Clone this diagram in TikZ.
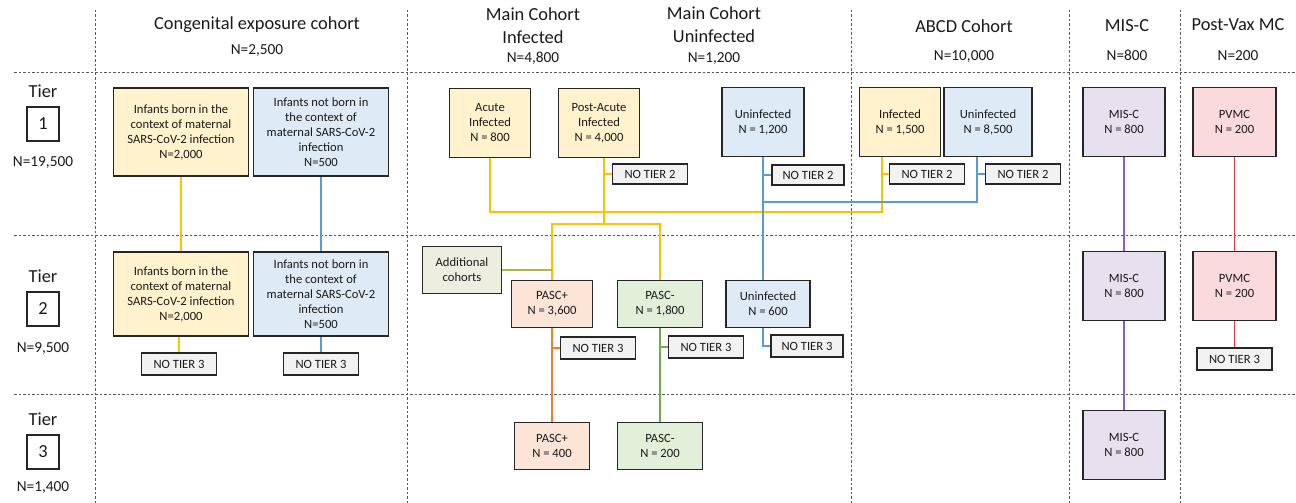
\documentclass[tikz,border=0pt]{standalone}
\usepackage{fontspec}
\setmainfont{Carlito}
\usetikzlibrary{positioning}

\definecolor{ylwfill}{HTML}{FFF2CC}
\definecolor{blufill}{HTML}{DEEBF7}
\definecolor{purfill}{HTML}{E7E0EF}
\definecolor{pnkfill}{HTML}{FADADC}
\definecolor{pchfill}{HTML}{FCE4D6}
\definecolor{grnfill}{HTML}{E2EFD9}
\definecolor{olvfill}{HTML}{EDEEDF}
\definecolor{gryfill}{HTML}{F2F2F2}
\definecolor{ylwline}{HTML}{FFC000}
\definecolor{bluline}{HTML}{5B9BD5}
\definecolor{ornline}{HTML}{ED7D31}
\definecolor{grnline}{HTML}{70AD47}
\definecolor{purline}{HTML}{8E5CC6}
\definecolor{redline}{HTML}{E0383C}
\definecolor{olvline}{HTML}{B4B446}
\definecolor{boxline}{HTML}{262626}
\definecolor{txt}{HTML}{1A1A1A}

\tikzset{
    divider/.style={gray!70!black, line width=0.9pt, dash pattern=on 2.5pt off 2pt},
    head/.style={text=txt, align=center, font=\fontsize{18.4}{23}\selectfont, inner sep=0pt},
    headn/.style={text=txt, font=\fontsize{15.3}{18}\selectfont, inner sep=0pt},
    tiernum/.style={draw=boxline, line width=1.4pt, text=txt, minimum width=32pt, minimum height=34pt, font=\fontsize{18.4}{22}\selectfont},
    cbox/.style={draw=boxline, line width=1.3pt, align=center, text=txt, inner sep=1pt,
                 font=\fontsize{12.6}{15}\selectfont},
    bigbox/.style={cbox, minimum width=135pt, minimum height=88pt},
    sqbox/.style={cbox, minimum width=81pt, minimum height=69pt},
    lowbox/.style={cbox, minimum width=81pt, minimum height=47pt},
    notier/.style={cbox, fill=gryfill, minimum width=75pt, minimum height=20pt},
    link/.style={line width=1.3pt},
}

\begin{document}
\begin{tikzpicture}[x=1pt, y=-1pt]
    \useasboundingbox (0,0) rectangle (1296,503);

    % grid of tiers and cohorts
    \draw[divider] (14,72) -- (1296,72);
    \draw[divider] (14,235) -- (1296,235);
    \draw[divider] (14,394) -- (1296,394);
    \foreach \gx in {95,407,851,1069,1180}
        \draw[divider] (\gx,10) -- (\gx,503);

    % column heads
    \node[head]  (hcong)   at (257,25)   {Congenital exposure cohort};
    \node[headn] (hcongN)  at (257,51)   {N=2,500};
    \node[head]  (hinf)    at (533,26)   {Main Cohort\\Infected};
    \node[headn] (hinfN)   at (533,58)   {N=4,800};
    \node[head]  (huninf)  at (714,25)   {Main Cohort\\Uninfected};
    \node[headn] (huninfN) at (714,59)   {N=1,200};
    \node[head]  (habcd)   at (964,26)   {ABCD Cohort};
    \node[headn] (habcdN)  at (964,57)   {N=10,000};
    \node[head]  (hmisc)   at (1127,26)  {MIS-C};
    \node[headn] (hmiscN)  at (1127,55)  {N=800};
    \node[head]  (hpvmc)   at (1238,25)  {Post-Vax MC};
    \node[headn] (hpvmcN)  at (1238,56)  {N=200};

    % tier labels
    \node[head]    (tierA)  at (43,91)  {Tier};
    \node[tiernum] (tnumA)  at (43,124) {1};
    \node[headn]   (tierAN) at (43,163) {N=19,500};
    \node[head]    (tierB)  at (43,276) {Tier};
    \node[tiernum] (tnumB)  at (43,309) {2};
    \node[headn]   (tierBN) at (43,349) {N=9,500};
    \node[head]    (tierC)  at (43,419) {Tier};
    \node[tiernum] (tnumC)  at (43,452) {3};
    \node[headn]   (tierCN) at (43,488) {N=1,400};

    % tier 1
    \node[bigbox, fill=ylwfill] (congY1) at (181,132) {Infants born in the\\context of maternal\\SARS-CoV-2 infection\\N=2,000};
    \node[bigbox, fill=blufill] (congB1) at (321,132) {Infants not born in\\the context of\\maternal SARS-CoV-2\\infection\\N=500};
    \node[sqbox, fill=ylwfill] (acute)     at (490,123) {Acute\\Infected\\N = 800};
    \node[sqbox, fill=ylwfill] (postacute) at (599,123) {Post-Acute\\Infected\\N = 4,000};
    \node[sqbox, fill=blufill, minimum width=82pt] (unin1) at (763,122) {Uninfected\\N = 1,200};
    \node[sqbox, fill=ylwfill] (abcdInf)  at (900,122) {Infected\\N = 1,500};
    \node[sqbox, fill=blufill, minimum width=88pt] (abcdUnin) at (988,122) {Uninfected\\N = 8,500};
    \node[sqbox, fill=purfill, minimum width=82pt] (misc1) at (1124,122) {MIS-C\\N = 800};
    \node[sqbox, fill=pnkfill, minimum width=83pt] (pvmc1) at (1234.5,122) {PVMC\\N = 200};

    \node[notier] (nt2post)  at (650,174)  {NO TIER 2};
    \node[notier, minimum width=72pt] (nt2unin) at (808,175) {NO TIER 2};
    \node[notier] (nt2abcdI) at (927,174)  {NO TIER 2};
    \node[notier] (nt2abcdU) at (1023,174) {NO TIER 2};

    % tier 2
    \node[bigbox, fill=ylwfill, minimum height=84pt] (congY2) at (181,294) {Infants born in the\\context of maternal\\SARS-CoV-2 infection\\N=2,000};
    \node[bigbox, fill=blufill, minimum height=84pt] (congB2) at (321,294) {Infants not born in\\the context of\\maternal SARS-CoV-2\\infection\\N=500};
    \node[lowbox, fill=olvfill, minimum width=79pt] (addl) at (462,270) {Additional\\cohorts};
    \node[lowbox, fill=pchfill] (pascP2) at (552,304) {PASC+\\N = 3,600};
    \node[lowbox, fill=grnfill, minimum width=85pt] (pascM2) at (660,304) {PASC-\\N = 1,800};
    \node[lowbox, fill=blufill, minimum width=84pt] (unin2) at (768,304) {Uninfected\\N = 600};
    \node[sqbox, fill=purfill, minimum width=82pt] (misc2) at (1124,286) {MIS-C\\N = 800};
    \node[sqbox, fill=pnkfill, minimum width=83pt] (pvmc2) at (1234.5,286) {PVMC\\N = 200};

    \node[notier, minimum height=22pt] (nt3congY) at (179,364)    {NO TIER 3};
    \node[notier, minimum height=22pt] (nt3congB) at (321,364)    {NO TIER 3};
    \node[notier, minimum height=22pt] (nt3pascP) at (598,348)    {NO TIER 3};
    \node[notier, minimum height=22pt] (nt3pascM) at (706,347)    {NO TIER 3};
    \node[notier, minimum height=22pt, minimum width=72pt] (nt3unin) at (807,346) {NO TIER 3};
    \node[notier, minimum height=22pt] (nt3pvmc)  at (1234.5,359) {NO TIER 3};

    % tier 3
    \node[lowbox, fill=pchfill, minimum width=75pt] (pascP3) at (552,446) {PASC+\\N = 400};
    \node[lowbox, fill=grnfill, minimum width=85pt] (pascM3) at (660,446) {PASC-\\N = 200};
    \node[sqbox, fill=purfill, minimum width=82pt] (misc3) at (1124,445) {MIS-C\\N = 800};

    % connectors
    \coordinate (ybus)  at (0,212);
    \coordinate (bbus)  at (0,202);
    \coordinate (split) at (0,224);
    \coordinate (abcdI) at ([xshift=-18pt]abcdInf.south);
    \coordinate (abcdU) at ([xshift=-11pt]abcdUnin.south);
    \coordinate (postI) at ([xshift=5pt]postacute.south);

    \draw[link, ylwline] (congY1) -- (congY2);
    \draw[link, ylwline] (congY2.south -| nt3congY) -- (nt3congY);
    \draw[link, bluline] (congB1) -- (congB2);
    \draw[link, bluline] (congB2) -- (nt3congB);

    \draw[link, ylwline] (acute.south) |- (ybus -| abcdI) -- (abcdI);
    \draw[link, ylwline] (abcdI |- nt2abcdI.west) -- (nt2abcdI.west);
    \draw[link, ylwline] (postI) -- (postI |- split);
    \draw[link, ylwline] (postI |- nt2post.west) -- (nt2post.west);
    \draw[link, ylwline] (pascP2.north) |- (pascM2.north |- split) -- (pascM2.north);
    \draw[link, olvline] (addl.east) -- (addl.east -| pascP2.north);

    \draw[link, bluline] (unin1.south) -- (unin1.south |- unin2.north);
    \draw[link, bluline] (unin1.south |- nt2unin.west) -- (nt2unin.west);
    \draw[link, bluline] (unin1.south |- bbus) -| (abcdU);
    \draw[link, bluline] (abcdU |- nt2abcdU.west) -- (nt2abcdU.west);
    \draw[link, bluline] (unin1.south |- unin2.south) |- (nt3unin.west);

    \draw[link, ornline] (pascP2) -- (pascP3);
    \draw[link, ornline] (pascP2.south |- nt3pascP.west) -- (nt3pascP.west);
    \draw[link, grnline] (pascM2) -- (pascM3);
    \draw[link, grnline] (pascM2.south |- nt3pascM.west) -- (nt3pascM.west);

    \draw[link, purline] (misc1) -- (misc2);
    \draw[link, purline] (misc2) -- (misc3);
    \draw[link, redline] (pvmc1) -- (pvmc2);
    \draw[link, redline] (pvmc2) -- (nt3pvmc);

\end{tikzpicture}
\end{document}
